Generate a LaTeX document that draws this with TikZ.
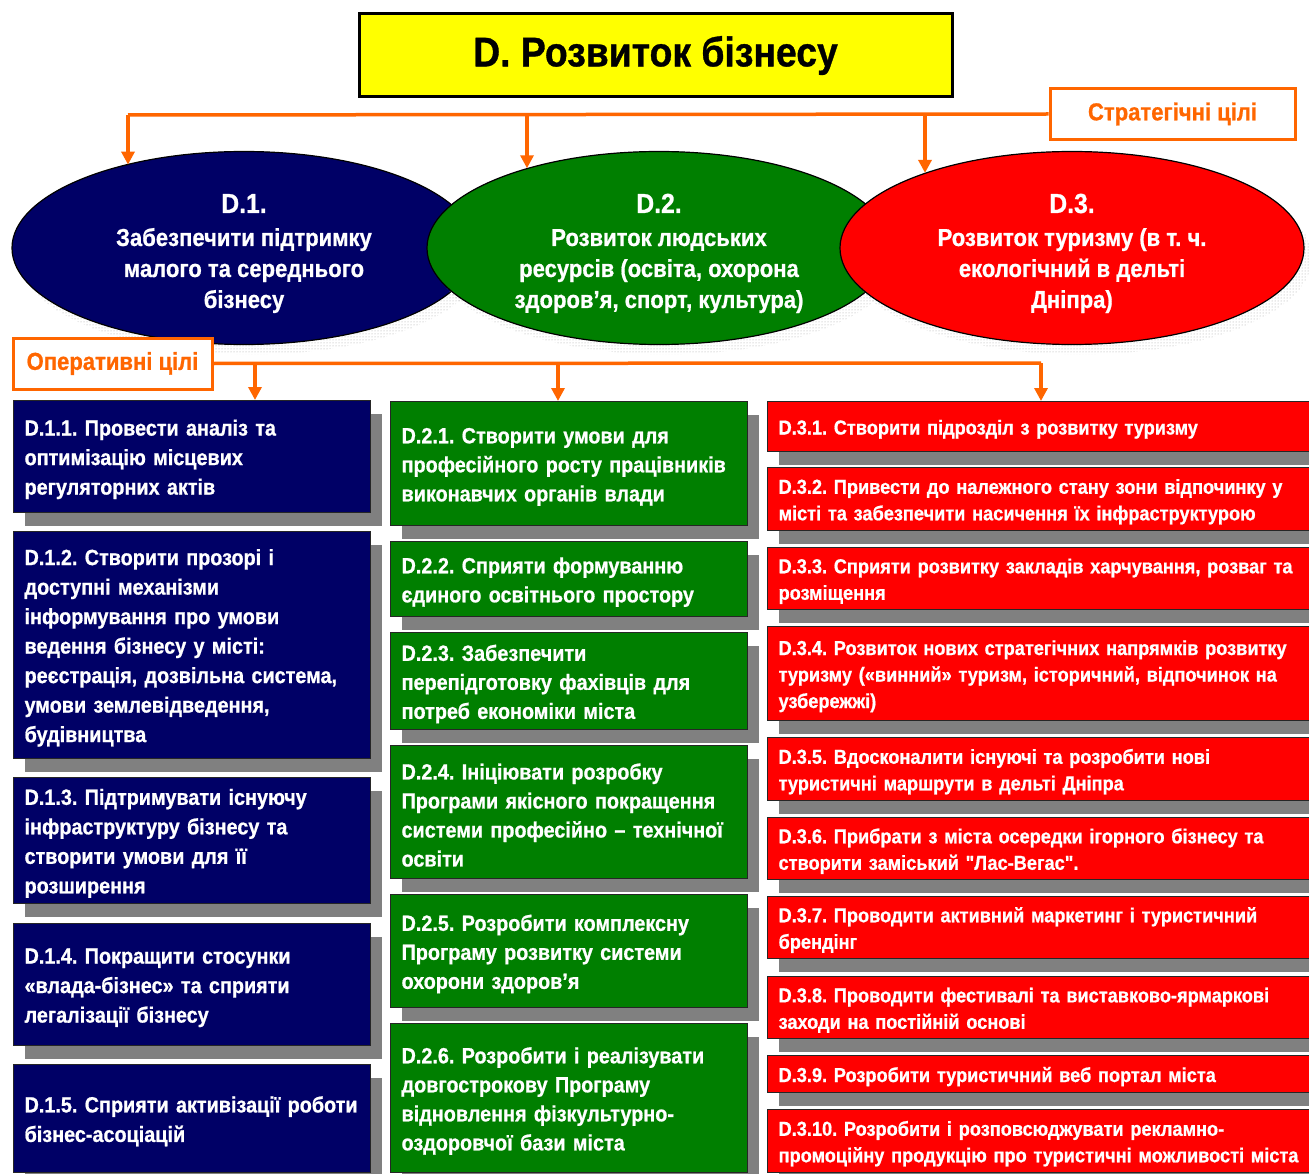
\documentclass[tikz,border=0pt]{standalone}
\usepackage{fontspec}
\newfontfamily\nar{Liberation Sans}[FakeStretch=0.9, BoldFeatures={FakeBold=0.8}]
\usetikzlibrary{shapes.geometric,shadows,patterns,arrows.meta}
\definecolor{navyb}{HTML}{000066}
\definecolor{greenb}{HTML}{007F00}
\definecolor{redb}{HTML}{FF0000}
\definecolor{shadowgray}{HTML}{808080}
\definecolor{orng}{HTML}{FF6600}
\definecolor{yell}{HTML}{FFFF00}
\frenchspacing
\begin{document}
\begin{tikzpicture}[x=1pt,y=-1pt,
  goalbox/.style={draw=black!85, line width=1.2pt, text=white, align=left,
    anchor=north west, inner xsep=11pt, inner ysep=0pt,
    general shadow={fill=shadowgray, shadow xshift=11pt, shadow yshift=-13pt}},
  colone/.style={goalbox, fill=navyb, text width=335pt,
    execute at begin node={\rule{0pt}{21.5pt}},
    font=\nar\bfseries\fontsize{22}{29.5}\selectfont},
  coltwo/.style={goalbox, fill=greenb, text width=335pt,
    execute at begin node={\rule{0pt}{22pt}},
    font=\nar\bfseries\fontsize{22}{29}\selectfont},
  colthree/.style={goalbox, fill=redb, text width=540pt,
    execute at begin node={\rule{0pt}{20pt}},
    font=\nar\bfseries\fontsize{20.2}{26.5}\selectfont},
  goalell/.style={ellipse, draw=black, line width=1.2pt, minimum width=464pt,
    minimum height=193pt, inner sep=0pt, text=white, align=center,
    font=\nar\bfseries\fontsize{24.5}{31}\selectfont,
    general shadow={pattern=dots, pattern color=gray!70, shadow xshift=8pt, shadow yshift=-10pt}},
  labelbox/.style={draw=orng, line width=3pt, fill=white, text=orng,
    font=\nar\bfseries\fontsize{24.5}{30}\selectfont, inner sep=0pt},
  orangeline/.style={draw=orng, line width=3.5pt},
  arr/.style={orangeline, -{Triangle[width=13pt,length=13pt]}},
  bigtitle/.style={draw=black, line width=3pt, fill=yell, text=black,
    font=\nar\bfseries\fontsize{41.5}{44}\selectfont, inner sep=0pt}
]
\useasboundingbox[fill=white] (0,0) rectangle (1309,1174);

% title
\node[bigtitle, minimum width=593pt, minimum height=83pt] (title) at (655.5,55.5) {D. Розвиток бізнесу};

% strategic label
\node[labelbox, minimum width=245pt, minimum height=51pt] (strat) at (1172.5,114) {Стратегічні цілі};

% ellipses
\node[goalell, fill=navyb] (D1) at (244,248)
  {\rule{0pt}{30pt}{\fontsize{27.5}{31}\selectfont D.1.}\\[2pt]Забезпечити підтримку\\малого та середнього\\бізнесу};
\node[goalell, fill=greenb] (D2) at (659,248)
  {\rule{0pt}{30pt}{\fontsize{27.5}{31}\selectfont D.2.}\\[2pt]Розвиток людських\\ресурсів (освіта, охорона\\здоров’я, спорт, культура)};
\node[goalell, fill=redb] (D3) at (1072,248)
  {\rule{0pt}{30pt}{\fontsize{27.5}{31}\selectfont D.3.}\\[2pt]Розвиток туризму (в т. ч.\\екологічний в дельті\\Дніпра)};

% strategic connectors
\coordinate (s1) at (128,115);
\coordinate (s2) at (527,115);
\coordinate (s3) at (925,115);
\draw[orangeline] (strat.west) -- (s1);
\draw[arr] (s1) -- (s1 |- D1.145);
\draw[arr] (s2) -- (s2 |- D2.149);
\draw[arr] (s3) -- (s3 |- D3.153);

% operational label
\node[labelbox, minimum width=199pt, minimum height=51pt] (oper) at (112.5,363.5) {Оперативні цілі};

% column 1
\node[colone, minimum height=112pt] (d11) at (13,400) {D.1.1. Провести аналіз та\\оптимізацію місцевих\\регуляторних актів};
\node[colone, minimum height=227pt] (d12) at (13,531) {D.1.2. Створити прозорі і\\доступні механізми\\інформування про умови\\ведення бізнесу у місті:\\реєстрація, дозвільна система,\\умови землевідведення,\\будівництва};
\node[colone, minimum height=126pt] (d13) at (13,777) {D.1.3. Підтримувати існуючу\\інфраструктуру бізнесу та\\створити умови для її\\розширення};
\node[colone, minimum height=122pt] (d14) at (13,923) {D.1.4. Покращити стосунки\\«влада-бізнес» та сприяти\\легалізації бізнесу};
\node[colone, minimum height=108pt] (d15) at (13,1064) {D.1.5. Сприяти активізації роботи\\бізнес-асоціацій};

% column 2
\node[coltwo, minimum height=124pt] (d21) at (390,401) {D.2.1. Створити умови для\\професійного росту працівників\\виконавчих органів влади};
\node[coltwo, minimum height=75pt] (d22) at (390,541) {D.2.2. Сприяти формуванню\\єдиного освітнього простору};
\node[coltwo, minimum height=97pt] (d23) at (390,632) {D.2.3. Забезпечити\\перепідготовку фахівців для\\потреб економіки міста};
\node[coltwo, minimum height=133pt] (d24) at (390,745) {D.2.4. Ініціювати розробку\\Програми якісного покращення\\системи професійно – технічної\\освіти};
\node[coltwo, minimum height=113pt] (d25) at (390,894) {D.2.5. Розробити комплексну\\Програму розвитку системи\\охорони здоров’я};
\node[coltwo, minimum height=149pt] (d26) at (390,1023) {D.2.6. Розробити і реалізувати\\довгострокову Програму\\відновлення фізкультурно-\\оздоровчої бази міста};

% column 3
\node[colthree, minimum height=50pt] (d31) at (767,401) {D.3.1. Створити підрозділ з розвитку туризму};
\node[colthree, minimum height=63pt] (d32) at (767,467) {D.3.2. Привести до належного стану зони відпочинку у\\місті та забезпечити насичення їх інфраструктурою};
\node[colthree, minimum height=62pt] (d33) at (767,547) {D.3.3. Сприяти розвитку закладів харчування, розваг та\\розміщення};
\node[colthree, minimum height=94pt] (d34) at (767,626) {D.3.4. Розвиток нових стратегічних напрямків розвитку\\туризму («винний» туризм, історичний, відпочинок на\\узбережжі)};
\node[colthree, minimum height=63pt] (d35) at (767,737) {D.3.5. Вдосконалити існуючі та розробити нові\\туристичні маршрути в дельті Дніпра};
\node[colthree, minimum height=62pt] (d36) at (767,817) {D.3.6. Прибрати з міста осередки ігорного бізнесу та\\створити заміський "Лас-Вегас".};
\node[colthree, minimum height=62pt] (d37) at (767,896) {D.3.7. Проводити активний маркетинг і туристичний\\брендінг};
\node[colthree, minimum height=62pt] (d38) at (767,976) {D.3.8. Проводити фестивалі та виставково-ярмаркові\\заходи на постійній основі};
\node[colthree, minimum height=37pt] (d39) at (767,1055) {D.3.9. Розробити туристичний веб портал міста};
\node[colthree, minimum height=63pt] (d310) at (767,1109) {D.3.10. Розробити і розповсюджувати рекламно-\\промоційну продукцію про туристичні можливості міста};

% operational connectors
\coordinate (o1) at (255,363);
\coordinate (o2) at (558,363);
\coordinate (o3) at (1041,363);
\draw[orangeline] (oper.east) -- (o3);
\draw[arr] (o1) -- (o1 |- d11.north);
\draw[arr] (o2) -- (o2 |- d21.north);
\draw[arr] (o3) -- (o3 |- d31.north);
\end{tikzpicture}
\end{document}
